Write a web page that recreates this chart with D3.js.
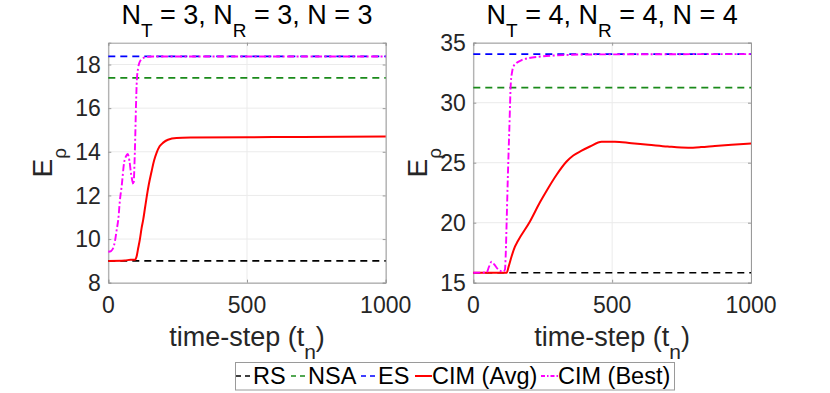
<!DOCTYPE html>
<html>
<head>
<meta charset="utf-8">
<script src="https://cdn.jsdelivr.net/npm/d3@7"></script>
<style>
  html, body { margin: 0; padding: 0; background: #fff; }
  svg { display: block; font-family: "Liberation Sans", Arial, Helvetica, sans-serif; }
</style>
</head>
<body>
<svg id="chart" width="830" height="393"></svg>
<script>
// ---------------- DATA ----------------
const xTicks = [0, 500, 1000];
const yTicksLeft = [8, 10, 12, 14, 16, 18];
const yTicksRight = [15, 20, 25, 30, 35];

// Left panel: N_T = 3, N_R = 3, N = 3
const rsLeft = 9.0;
const nsaLeft = 17.39;
const esLeft = 18.37;
const tAvgLeft = [0, 60, 80, 96, 102, 108, 114, 120, 126, 132, 138, 146, 156, 165, 174, 185, 198, 215, 246, 300, 500, 700, 1000];
const avgLeft  = [9.0, 9.02, 9.05, 9.05, 9.2, 9.6, 10.0, 10.5, 10.9, 11.4, 11.9, 12.5, 13.1, 13.6, 13.95, 14.25, 14.42, 14.55, 14.63, 14.65, 14.67, 14.68, 14.7];
const tBestLeft = [0, 10, 18, 24, 30, 36, 42, 48, 57, 64, 70, 76, 82, 88, 91, 94, 97, 100, 103, 107, 112, 118, 126, 140, 160, 1000];
const bestLeft  = [9.42, 9.45, 9.6, 9.9, 10.4, 10.9, 11.8, 12.4, 13.5, 13.8, 13.9, 13.6, 13.0, 12.6, 12.5, 13.3, 14.6, 16.2, 17.3, 17.8, 18.08, 18.22, 18.3, 18.35, 18.37, 18.37];

// Right panel: N_T = 4, N_R = 4, N = 4
const rsRight = 15.83;
const nsaRight = 31.25;
const esRight = 34.05;
const tAvgRight = [0, 120, 128, 138, 150, 160, 204, 240, 270, 300, 336, 360, 390, 420, 462, 510, 570, 630, 700, 774, 820, 870, 930, 1000];
const avgRight  = [15.83, 15.83, 16.4, 17.2, 18.0, 18.45, 20.1, 21.7, 22.9, 24.0, 25.1, 25.6, 26.0, 26.35, 26.75, 26.75, 26.62, 26.5, 26.35, 26.25, 26.3, 26.4, 26.5, 26.6];
const tBestRight = [0, 48, 56, 66, 76, 90, 108, 114, 117, 120, 124, 130, 135, 140, 144, 155, 174, 200, 234, 280, 330, 400, 1000];
const bestRight  = [15.83, 15.85, 16.3, 16.75, 16.5, 16.1, 15.92, 16.1, 17.5, 20.0, 23.5, 28.0, 31.6, 32.6, 33.0, 33.3, 33.55, 33.72, 33.83, 33.92, 33.97, 34.02, 34.05];

const legendLabels = ["RS", "NSA", "ES", "CIM (Avg)", "CIM (Best)"];

// ---------------- STYLES ----------------
const styles = {
  RS:   { color: "#000000", dash: "7,5", width: 1.7 },
  NSA:  { color: "#1a8a1a", dash: "7,5", width: 1.7 },
  ES:   { color: "#0000ff", dash: "7,5", width: 1.7 },
  AVG:  { color: "#ff0000", dash: null, width: 2 },
  BEST: { color: "#ff00ff", dash: "7,2.5,2,2.5", width: 1.9 }
};

const svg = d3.select("#chart");
svg.append("rect").attr("width", 830).attr("height", 393).attr("fill", "#fff");

const plotTop = 42.7, plotBottom = 282.7;

const panels = [
  { x0: 108.3, x1: 385.7, yDomain: [8, 19], yTicks: yTicksLeft,
    rs: rsLeft, nsa: nsaLeft, es: esLeft,
    avg: tAvgLeft.map((t, i) => [t, avgLeft[i]]),
    best: tBestLeft.map((t, i) => [t, bestLeft[i]]),
    title: ["3", "3", "3"], ylabX: 52 },
  { x0: 473.3, x1: 751, yDomain: [15, 35], yTicks: yTicksRight,
    rs: rsRight, nsa: nsaRight, es: esRight,
    avg: tAvgRight.map((t, i) => [t, avgRight[i]]),
    best: tBestRight.map((t, i) => [t, bestRight[i]]),
    title: ["4", "4", "4"], ylabX: 426.7 }
];

const axisColor = "#9a9a9a";
const gridColor = "#ebebeb";
const textColor = "#262626";

panels.forEach(p => {
  const x = d3.scaleLinear().domain([0, 1000]).range([p.x0, p.x1]);
  const y = d3.scaleLinear().domain(p.yDomain).range([plotBottom, plotTop]);
  const g = svg.append("g");

  // grid
  g.selectAll(".gx").data(xTicks).enter().append("line")
    .attr("x1", d => x(d)).attr("x2", d => x(d))
    .attr("y1", plotTop).attr("y2", plotBottom)
    .attr("stroke", gridColor).attr("stroke-width", 1);
  g.selectAll(".gy").data(p.yTicks).enter().append("line")
    .attr("x1", p.x0).attr("x2", p.x1)
    .attr("y1", d => y(d)).attr("y2", d => y(d))
    .attr("stroke", gridColor).attr("stroke-width", 1);

  // axes via d3 (ticks inward), box
  const axB = d3.axisBottom(x).tickValues(xTicks).tickSize(-3).tickPadding(0).tickFormat("");
  const axT = d3.axisTop(x).tickValues(xTicks).tickSize(-3).tickFormat("");
  const axL = d3.axisLeft(y).tickValues(p.yTicks).tickSize(-3).tickFormat("");
  const axR = d3.axisRight(y).tickValues(p.yTicks).tickSize(-3).tickFormat("");
  [[axB, `translate(0,${plotBottom})`], [axT, `translate(0,${plotTop})`],
   [axL, `translate(${p.x0},0)`], [axR, `translate(${p.x1},0)`]].forEach(([ax, tr]) => {
    const a = g.append("g").attr("transform", tr).call(ax);
    a.selectAll("path,line").attr("stroke", axisColor).attr("stroke-width", 1);
  });

  // tick labels
  g.selectAll(".xl").data(xTicks).enter().append("text")
    .attr("x", d => x(d)).attr("y", 313)
    .attr("text-anchor", "middle").attr("font-size", 23).attr("fill", textColor)
    .text(d => d);
  g.selectAll(".yl").data(p.yTicks).enter().append("text")
    .attr("x", p.x0 - 7.5).attr("y", d => y(d) + 8.2)
    .attr("text-anchor", "end").attr("font-size", 23).attr("fill", textColor)
    .text(d => d);

  // data lines
  const line = d3.line().x(d => x(d[0])).y(d => y(d[1])).curve(d3.curveMonotoneX);
  const hline = v => [[0, v], [1000, v]];
  const series = [
    [hline(p.rs), styles.RS], [hline(p.nsa), styles.NSA], [hline(p.es), styles.ES],
    [p.avg, styles.AVG], [p.best, styles.BEST]
  ];
  series.forEach(([data, s]) => {
    g.append("path").datum(data).attr("d", line)
      .attr("fill", "none").attr("stroke", s.color).attr("stroke-width", s.width)
      .attr("stroke-dasharray", s.dash);
  });

  // title
  const cx = (p.x0 + p.x1) / 2;
  const t = g.append("text").attr("x", cx).attr("y", 24)
    .attr("text-anchor", "middle").attr("font-size", 27).attr("fill", "#000");
  t.append("tspan").text("N");
  t.append("tspan").attr("font-size", 19).attr("dy", 13).text("T");
  t.append("tspan").attr("dy", -13).text(` = ${p.title[0]}, N`);
  t.append("tspan").attr("font-size", 19).attr("dy", 13).text("R");
  t.append("tspan").attr("dy", -13).text(` = ${p.title[1]}, N = ${p.title[2]}`);

  // x label
  const xl = g.append("text").attr("x", cx).attr("y", 346)
    .attr("text-anchor", "middle").attr("font-size", 27).attr("fill", textColor);
  xl.append("tspan").text("time-step (t");
  xl.append("tspan").attr("font-size", 21).attr("dy", 13).text("n");
  xl.append("tspan").attr("dy", -13).text(")");

  // y label
  const cy = (plotTop + plotBottom) / 2;
  const yl = g.append("text")
    .attr("transform", `translate(${p.ylabX},${cy}) rotate(-90)`)
    .attr("text-anchor", "middle").attr("font-size", 28).attr("fill", textColor);
  yl.append("tspan").text("E");
  yl.append("tspan").attr("font-size", 19).attr("dy", 14).text("ρ");
});

// ---------------- LEGEND ----------------
const lg = svg.append("g");
lg.append("rect").attr("x", 235.5).attr("y", 362.5).attr("width", 439).attr("height", 27.5)
  .attr("fill", "#fff").attr("stroke", axisColor).attr("stroke-width", 1);
const legStyles = [styles.RS, styles.NSA, styles.ES, styles.AVG, styles.BEST];
const legX = [236, 291, 361, 415, 541];
const legScale = d3.scalePoint().domain(legendLabels).range([0, 4]);
legendLabels.forEach(lab => {
  const i = legScale(lab);
  const s = legStyles[i];
  const lx = legX[i];
  lg.append("line").attr("x1", lx).attr("x2", lx + 17).attr("y1", 376).attr("y2", 376)
    .attr("stroke", s.color).attr("stroke-width", s.width)
    .attr("stroke-dasharray", s.dash ? (i === 4 ? "4,2,1.5,2" : "5,4") : null);
  lg.append("text").attr("x", lx + 17).attr("y", 384)
    .attr("font-size", 23.5).attr("fill", "#000").text(lab);
});
</script>
</body>
</html>
